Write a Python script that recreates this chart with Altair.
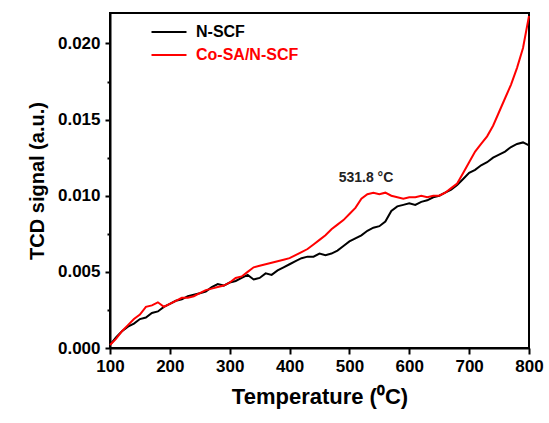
import altair as alt
import pandas as pd

temps = list(range(100, 801, 10))

n_scf = [0.0002, 0.0007, 0.0011, 0.0014, 0.0016, 0.0019, 0.0020, 0.0023, 0.0024, 0.0027,
         0.0029, 0.0031, 0.0032, 0.0034, 0.0035, 0.0036, 0.0037, 0.0040, 0.0042, 0.0041,
         0.0043, 0.0044, 0.0046, 0.0048, 0.0045, 0.0046, 0.0049, 0.0048, 0.0051, 0.0053,
         0.0055, 0.0057, 0.0059, 0.0060, 0.0060, 0.0062, 0.0061, 0.0062, 0.0064, 0.0067,
         0.0070, 0.0072, 0.0074, 0.0077, 0.0079, 0.0080, 0.0083, 0.0090, 0.0093, 0.0094,
         0.0095, 0.0094, 0.0096, 0.0097, 0.0099, 0.0100, 0.0102, 0.0104, 0.0107, 0.0111,
         0.0115, 0.0117, 0.0120, 0.0122, 0.0125, 0.0127, 0.0129, 0.0132, 0.0134, 0.0135,
         0.0133]

co_sa = [0.0002, 0.0006, 0.0011, 0.0015, 0.0019, 0.0022, 0.0027, 0.0028, 0.0030, 0.0027,
         0.0029, 0.0031, 0.0033, 0.0033, 0.0034, 0.0036, 0.0038, 0.0039, 0.0040, 0.0041,
         0.0043, 0.0046, 0.0047, 0.0050, 0.0053, 0.0054, 0.0055, 0.0056, 0.0057, 0.0058,
         0.0059, 0.0061, 0.0063, 0.0065, 0.0068, 0.0071, 0.0074, 0.0078, 0.0081, 0.0084,
         0.0088, 0.0092, 0.0098, 0.0101, 0.0102, 0.0101, 0.0102, 0.0100, 0.0099, 0.0098,
         0.0099, 0.0099, 0.0100, 0.0099, 0.0100, 0.0100, 0.0102, 0.0105, 0.0108, 0.0115,
         0.0122, 0.0129, 0.0134, 0.0139, 0.0146, 0.0155, 0.0164, 0.0173, 0.0184, 0.0197,
         0.0218]

series_names = ["N-SCF", "Co-SA/N-SCF"]
series_colors = ["#000000", "#ff0000"]

peak_label = ["531.8 °C"]
peak_x = [482]
peak_y = [0.01115]

x_ticks = list(range(100, 801, 50))
y_ticks = [i * 0.0025 for i in range(0, 9)]

rows = []
for t, v in zip(temps, n_scf):
    rows.append({"T": t, "signal": v, "sample": series_names[0], "order": 0})
for t, v in zip(temps, co_sa):
    rows.append({"T": t, "signal": v, "sample": series_names[1], "order": 1})
df = pd.DataFrame(rows)

FONT = "Liberation Sans"

xscale = alt.Scale(domain=[100, 800], nice=False, zero=False)
yscale = alt.Scale(domain=[0, 0.022], nice=False)

lines = alt.Chart(df).mark_line(strokeWidth=2).encode(
    x=alt.X("T:Q", scale=xscale,
            axis=alt.Axis(values=x_ticks, title="Temperature (⁰C)",
                          labelExpr="datum.value % 100 === 0 ? datum.label : ''",
                          labelFlush=False, labelOverlap=False,
                          tickSize={"condition": {"test": "datum.value % 100 === 0", "value": 6}, "value": 3},
                          titleFontSize=22, titlePadding=12, labelPadding=4)),
    y=alt.Y("signal:Q", scale=yscale,
            axis=alt.Axis(values=y_ticks, title="TCD signal (a.u.)",
                          labelExpr="round(datum.value*10000) % 50 === 0 ? format(datum.value, '.3f') : ''",
                          labelFlush=False, labelOverlap=False,
                          tickSize={"condition": {"test": "round(datum.value*10000) % 50 === 0", "value": 5}, "value": 3},
                          titleFontSize=20, titlePadding=10, labelPadding=5)),
    color=alt.Color("sample:N", scale=alt.Scale(domain=series_names, range=series_colors),
                    legend=alt.Legend(title=None, orient="none", legendX=49, legendY=9,
                                      symbolType="M-2,0H2", symbolSize=306, symbolStrokeWidth=2,
                                      labelFontSize=16, labelFont=FONT, labelFontWeight="bold",
                                      labelOffset=17, rowPadding=5, padding=0,
                                      labelColor=alt.ExprRef("datum.label === 'N-SCF' ? '#000000' : '#ff0000'"))),
    order="order:Q",
)

ann = alt.Chart(pd.DataFrame({"x": peak_x, "y": peak_y, "t": peak_label})).mark_text(
    align="left", baseline="middle", fontSize=14, fontWeight="bold", font=FONT, color="#222222"
).encode(x=alt.X("x:Q", scale=xscale), y=alt.Y("y:Q", scale=yscale), text="t:N")

chart = alt.layer(lines, ann).properties(
    width=419, height=335,
    autosize=alt.AutoSizeParams(type="none"),
    padding={"left": 110, "top": 13, "right": 20, "bottom": 75},
).configure_view(stroke="black", strokeWidth=2).configure_axis(
    domainColor="black", domainWidth=2, tickColor="black", tickWidth=2, grid=False,
    labelFont=FONT, labelFontSize=17, labelFontWeight="bold", labelColor="black",
    titleFont=FONT, titleFontWeight="bold", titleColor="black",
)

chart.save("out.html", embed_options={"renderer": "svg", "actions": False})
